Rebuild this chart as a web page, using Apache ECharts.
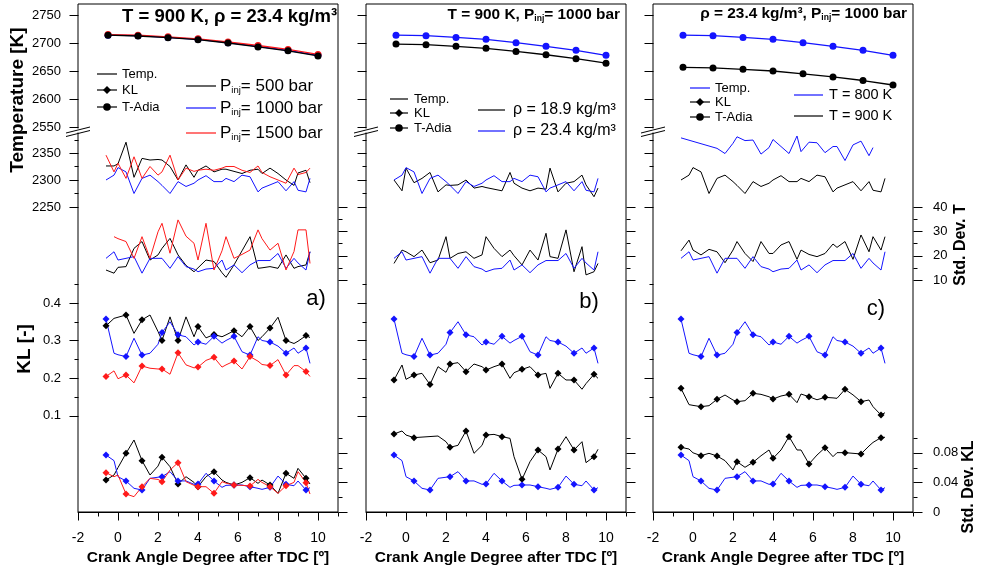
<!DOCTYPE html>
<html>
<head>
<meta charset="utf-8">
<script src="https://cdn.jsdelivr.net/npm/echarts@6/dist/echarts.min.js"></script>
<style>
  html, body { margin: 0; padding: 0; background: #fff; }
  #chart { width: 982px; height: 566px; }
</style>
</head>
<body>
<div id="chart"></div>
<script>
// ---- crank-angle positions (deg after TDC) ----
const XS = [-0.6, -0.2, 0.0, 0.4, 0.8, 1.2, 1.6, 2.0, 2.2, 2.6, 3.0, 3.4, 3.8, 4.0, 4.4,
            4.8, 5.2, 5.4, 5.8, 6.2, 6.6, 7.0, 7.2, 7.6, 8.0, 8.4, 8.8, 9.0, 9.4, 9.6];
const MARK_IDX = [0, 3, 5, 8, 10, 13, 15, 18, 20, 23, 25, 28];
const XA = [-0.5, 1, 2.5, 4, 5.5, 7, 8.5, 10];

// ---- tick values ----
const X_MAJOR = [-2, 0, 2, 4, 6, 8, 10];
const X_MINOR = [-1, 1, 3, 5, 7, 9, 11];
const T_UP_TICKS = [2550, 2600, 2650, 2700, 2750];
const T_LO_MAJOR = [2250, 2300, 2350];
const T_LO_MINOR = [2275, 2325, 2375];
const SDT_MAJOR = [10, 20, 30, 40];
const SDT_MINOR = [15, 25, 35];
const KL_MAJOR = [0.1, 0.2, 0.3, 0.4];
const KL_MINOR = [0.15, 0.25, 0.35, 0.45];
const SDKL_MAJOR = [0, 0.04, 0.08];
const SDKL_MINOR = [0.02, 0.06, 0.1];

// ---- reference case: T = 900 K, rho = 23.4 kg/m3, Pinj = 1000 bar ----
const baseTAdia = [2714, 2713, 2710, 2706.5, 2700.5, 2694, 2687, 2678];
const baseTemp = [2300, 2309, 2323, 2315, 2275, 2303, 2309, 2297, 2290, 2275, 2297, 2288, 2294, 2300, 2308,
                  2297, 2297, 2303, 2297, 2309, 2306, 2278, 2285, 2291, 2297, 2280, 2297, 2281, 2278, 2303];
const baseSdT = [18.9, 21.6, 18.2, 18.9, 19.6, 12.8, 18.9, 18.9, 18.9, 14.8, 19.6, 15.5, 14.5, 13.4, 14.5,
                 14.8, 18.2, 14.1, 16.2, 13.0, 16.2, 18.0, 18.0, 18.0, 20.9, 14.8, 18.9, 17.0, 14.1, 21.6];
const baseKL = [0.357, 0.266, 0.262, 0.257, 0.306, 0.261, 0.266, 0.290, 0.321, 0.350, 0.315, 0.310, 0.288, 0.296, 0.290,
                0.311, 0.293, 0.300, 0.311, 0.270, 0.261, 0.310, 0.300, 0.296, 0.285, 0.266, 0.280, 0.266, 0.280, 0.239];
const baseSdKL = [0.077, 0.0694, 0.0477, 0.0419, 0.032, 0.0297, 0.0455, 0.047, 0.0477, 0.0545, 0.0419, 0.042, 0.0374, 0.0378, 0.0523,
                  0.0419, 0.0333, 0.036, 0.0365, 0.0365, 0.0342, 0.032, 0.0306, 0.0333, 0.0486, 0.0374, 0.0355, 0.0419, 0.0297, 0.0329];

// ---- a) Pinj = 500 bar ----
const p500TAdia = [2714, 2712.5, 2709.5, 2706, 2700, 2693, 2686, 2677];
const p500Temp = [2326, 2326, 2330, 2370, 2305, 2340, 2337, 2338, 2337, 2325, 2300, 2328, 2305, 2318, 2326,
                  2315, 2320, 2320, 2316, 2312, 2318, 2320, 2312, 2322, 2312, 2300, 2290, 2313, 2318, 2295];
const p500SdT = [14.1, 12.8, 15.2, 15.5, 23.0, 25.8, 18.2, 20.3, 23.0, 27.1, 20.3, 16.0, 13.4, 15.0, 18.2,
                 17.6, 13.0, 11.1, 16.2, 22.0, 27.8, 14.8, 15.0, 15.5, 14.8, 20.3, 14.8, 15.5, 16.2, 21.6];
const p500KL = [0.339, 0.359, 0.362, 0.368, 0.319, 0.355, 0.368, 0.324, 0.300, 0.363, 0.300, 0.363, 0.310, 0.337, 0.307,
                0.316, 0.310, 0.315, 0.326, 0.310, 0.337, 0.300, 0.310, 0.333, 0.362, 0.300, 0.292, 0.298, 0.313, 0.308];
const p500SdKL = [0.0432, 0.050, 0.060, 0.0793, 0.0973, 0.0694, 0.050, 0.062, 0.074, 0.0612, 0.0378, 0.0477, 0.040, 0.0342, 0.0477,
                  0.0545, 0.0432, 0.040, 0.0365, 0.040, 0.0464, 0.0387, 0.0432, 0.0365, 0.0252, 0.0523, 0.0455, 0.059, 0.0455, 0.0378];

// ---- a) Pinj = 1500 bar ----
const p1500TAdia = [2715, 2714, 2711, 2707.5, 2702, 2695.5, 2688.5, 2679.5];
const p1500Temp = [2346, 2315, 2331, 2303, 2343, 2303, 2325, 2309, 2315, 2346, 2300, 2322, 2316, 2318, 2320,
                   2318, 2322, 2325, 2325, 2318, 2314, 2326, 2314, 2306, 2300, 2294, 2322, 2310, 2314, 2322];
const p1500SdT = [null, 27.8, 27.0, 25.8, 18.9, 27.8, 18.9, 29.8, 33.3, 21.0, 34.7, 28.0, 25.1, 18.2, 33.3,
                  14.1, 22.0, 27.8, 18.9, 20.5, 22.3, 30.6, 27.0, 22.3, 25.1, 14.1, 21.7, 30.6, 30.6, 16.8];
const p1500KL = [0.204, 0.219, 0.198, 0.208, 0.187, 0.232, 0.226, 0.224, 0.224, 0.210, 0.267, 0.235, 0.227, 0.229, 0.247,
                 0.255, 0.229, 0.235, 0.245, 0.224, 0.257, 0.245, 0.236, 0.233, 0.249, 0.208, 0.233, 0.233, 0.217, 0.204];
const p1500SdKL = [0.0532, 0.0477, 0.050, 0.0243, 0.0207, 0.0342, 0.0455, 0.044, 0.041, 0.0567, 0.0667, 0.041, 0.036, 0.0342, 0.0342,
                   0.0252, 0.041, 0.039, 0.0365, 0.036, 0.0351, 0.0441, 0.040, 0.0342, 0.0252, 0.0356, 0.040, 0.0545, 0.0396, 0.0243];

// ---- b) rho = 18.9 kg/m3 ----
const rho189TAdia = [2698, 2697, 2694, 2690.5, 2685, 2679, 2672, 2664];
const rho189Temp = [2300, 2280, 2322, 2295, 2303, 2314, 2278, 2291, 2290, 2291, 2300, 2285, 2288, 2286, 2283,
                    2280, 2314, 2294, 2285, 2280, 2285, 2283, 2322, 2278, 2294, 2297, 2309, 2291, 2269, 2285];
const rho189SdT = [16.8, 22.3, 21.6, 19.6, 22.3, 17.1, 18.2, 27.8, 18.9, 20.9, 21.6, 18.9, 20.3, 27.8, 23.0,
                   19.6, 22.3, 20.0, 16.2, 22.3, 18.2, 29.2, 19.6, 18.9, 30.6, 13.4, 23.7, 12.1, 13.4, 16.8];
const rho189KL = [0.1947, 0.2347, 0.1964, 0.208, 0.2124, 0.1826, 0.2302, 0.2151, 0.2373, 0.2409, 0.2169, 0.2373, 0.2302, 0.2213, 0.2302,
                  0.2373, 0.1991, 0.2142, 0.223, 0.2302, 0.208, 0.2124, 0.1724, 0.2124, 0.1947, 0.1947, 0.170, 0.185, 0.2097, 0.1991];
const rho189SdKL = [0.1054, 0.1095, 0.104, 0.1005, null, null, 0.1027, 0.095, 0.0874, 0.0901, 0.1095, 0.0793, 0.090, 0.104, 0.1049,
                    0.1018, 0.0995, 0.0748, 0.0441, 0.068, 0.0838, 0.0748, 0.0568, 0.085, 0.1018, 0.0838, 0.095, 0.0667, 0.0748, 0.0847];

// ---- c) temperature variation ----
const cBlackTAdia = [2656.5, 2655.5, 2653, 2650, 2645, 2639.5, 2633, 2625];
const cBlueTemp = [2378, null, null, null, null, 2358.6, 2349, 2368, 2380, 2373, 2374, 2348, 2360, 2375, 2362,
                   2349, 2381.5, 2352.5, 2370, 2369, 2350.6, 2362, 2362, 2336, 2365, 2372, 2345, 2360, null, null];
const cBlackSdT = [22.0, 26.4, 22.3, 20.3, 22.6, 21.6, 17.1, 22.3, 25.8, 20.9, 17.6, 25.8, 20.9, 20.9, 24.4,
                   25.8, 18.5, 22.3, 20.5, 19.6, 20.9, 24.8, 23.4, 25.8, 18.5, 28.5, 21.6, 27.8, 22.3, 27.8];
const cBlackKL = [0.1724, 0.129, 0.127, 0.1236, 0.1262, 0.1431, 0.1546, 0.1413, 0.1369, 0.1395, 0.1591, 0.1564, 0.150, 0.144, 0.152,
                  0.1564, 0.1342, 0.1573, 0.1502, 0.142, 0.1484, 0.147, 0.1458, 0.1698, 0.155, 0.1369, 0.1413, 0.1236, 0.1013, 0.1075];
const cBlackSdKL = [0.0874, 0.0851, 0.080, 0.0761, 0.0793, 0.0757, 0.0694, 0.0568, 0.068, 0.0604, 0.0671, 0.076, 0.0838, 0.0725, 0.0838,
                    0.1018, 0.0838, 0.0838, 0.0649, 0.077, 0.0869, 0.0748, 0.0802, 0.0802, 0.0793, 0.0784, 0.0892, 0.094, 0.1005, 0.101];

// ---------------------------------------------------------------
const FONT = '"Liberation Sans", Arial, Helvetica, sans-serif';
const BLACK = '#000000', BLUE = '#1414ff', RED = '#ff1a1a';

// panel left/right pixel edges and band boundaries
const PANEL_X = [[78, 338], [366, 626], [653, 913]];
const Y_TOP = 4, Y_BREAK = 132, Y_SDT = 280, Y_SDKL = 438, Y_BOTTOM = 512;
const MAJOR_LEN = 9, MINOR_LEN = 4;

// axis ranges per band (chosen so the bands share one pixel scale)
const R_TUP = [2541.07, 2769.64];
const R_TLO = [2114.81, 2388.89];
const R_SDT = [10, 70.82];
const R_KL = [-0.15733, 0.46133];
const R_SDKL = [0, 0.1];
const R_X = [-2, 11];
const R_DUMMY = [1, 2];

const grids = [], xAxes = [], yAxes = [], series = [];
const plain = v => String(v);

function addGrid(l, r, t, b, extra) {
  grids.push(Object.assign({ left: l, top: t, width: r - l, height: b - t, containLabel: false, outerBoundsMode: 'none' }, extra || {}));
  return grids.length - 1;
}
function hiddenAxis(list, gi, range) {
  list.push({ type: 'value', gridIndex: gi, min: range[0], max: range[1], show: false, axisLine: { onZero: false } });
  return list.length - 1;
}
function yLabels(l, r, t, b, pos, range, ticks, margin) {
  const gi = addGrid(l, r, t, b);
  hiddenAxis(xAxes, gi, R_DUMMY);
  yAxes.push({
    type: 'value', gridIndex: gi, position: pos, min: range[0], max: range[1],
    axisLine: { show: false, onZero: false }, splitLine: { show: false }, axisTick: { show: false },
    axisLabel: { show: true, customValues: ticks, margin: margin, fontSize: 13, color: BLACK, fontFamily: FONT, formatter: plain }
  });
}
function pts(xs, vals, marks, symbol, size) {
  return xs.map((x, i) => {
    const v = vals[i];
    const it = { value: [x, v == null ? '-' : v] };
    if (symbol && (marks === 'all' || marks.indexOf(i) >= 0)) {
      it.symbol = symbol; it.symbolSize = size;
    } else {
      it.symbol = 'none';
    }
    return it;
  });
}
function addLine(xi, yi, xs, vals, color, opt) {
  opt = opt || {};
  series.push({
    type: 'line', xAxisIndex: xi, yAxisIndex: yi,
    data: pts(xs, vals, opt.marks || [], opt.symbol, opt.size),
    showSymbol: true, showAllSymbol: true,
    connectNulls: !!opt.connect, clip: false, silent: true, animation: false,
    lineStyle: { color: color, width: opt.width || 1 },
    itemStyle: { color: color },
    z: opt.z || 2
  });
}

const PANELS = [
  { adia: [[p500TAdia, BLACK], [baseTAdia, BLUE], [p1500TAdia, RED]],
    temp: [[p500Temp, BLACK], [baseTemp, BLUE], [p1500Temp, RED]],
    sdt:  [[p500SdT, BLACK], [baseSdT, BLUE], [p1500SdT, RED]],
    kl:   [[p500KL, BLACK], [baseKL, BLUE], [p1500KL, RED]],
    sdkl: [[p500SdKL, BLACK], [baseSdKL, BLUE], [p1500SdKL, RED]] },
  { adia: [[rho189TAdia, BLACK], [baseTAdia, BLUE]],
    temp: [[rho189Temp, BLACK], [baseTemp, BLUE]],
    sdt:  [[rho189SdT, BLACK], [baseSdT, BLUE]],
    kl:   [[rho189KL, BLACK], [baseKL, BLUE]],
    sdkl: [[rho189SdKL, BLACK], [baseSdKL, BLUE]] },
  { adia: [[cBlackTAdia, BLACK], [baseTAdia, BLUE]],
    temp: [[baseTemp, BLACK], [cBlueTemp, BLUE]],
    sdt:  [[cBlackSdT, BLACK], [baseSdT, BLUE]],
    kl:   [[cBlackKL, BLACK], [baseKL, BLUE]],
    sdkl: [[cBlackSdKL, BLACK], [baseSdKL, BLUE]] }
];

const axisRefs = [];   // per panel: indices of the axes that carry each scale

PANELS.forEach((p, pi) => {
  const [L, R] = PANEL_X[pi];

  // frame + crank-angle axis line and labels
  const gf = addGrid(L, R, Y_TOP, Y_BOTTOM, { show: true, borderColor: BLACK, borderWidth: 1, backgroundColor: 'transparent' });
  xAxes.push({
    type: 'value', gridIndex: gf, min: R_X[0], max: R_X[1], position: 'bottom',
    axisLine: { show: true, onZero: false, lineStyle: { color: BLACK, width: 1 } },
    splitLine: { show: false }, axisTick: { show: false },
    axisLabel: { show: true, customValues: X_MAJOR, fontSize: 14, color: BLACK, margin: 19, fontFamily: FONT, formatter: plain },
    name: 'Crank Angle Degree after TDC [º]', nameLocation: 'middle', nameGap: 33,
    nameTextStyle: { fontSize: 15.5, fontWeight: 'bold', color: BLACK, fontFamily: FONT }
  });
  const xf = xAxes.length - 1;
  hiddenAxis(yAxes, gf, R_DUMMY);

  // tick labels: temperature and KL on the first panel, std. dev. on the last
  if (pi === 0) {
    yLabels(L, R, Y_TOP, Y_BREAK, 'left', R_TUP, T_UP_TICKS, 17);
    yLabels(L, R, Y_BREAK, Y_SDT, 'left', R_TLO, T_LO_MAJOR, 17);
    yLabels(L, R, Y_SDT, Y_BOTTOM, 'left', R_KL, KL_MAJOR, 17);
  }
  if (pi === 2) {
    yLabels(L, R, Y_BREAK, Y_SDT, 'right', R_SDT, SDT_MAJOR, 20);
    yLabels(L, R, Y_SDKL, Y_BOTTOM, 'right', R_SDKL, SDKL_MAJOR, 20);
  }

  // upper temperature band: adiabatic flame temperature
  const g0 = addGrid(L, R, Y_TOP, Y_BREAK);
  const x0 = hiddenAxis(xAxes, g0, R_X);
  const y0 = hiddenAxis(yAxes, g0, R_TUP);
  p.adia.forEach(([vals, c]) => addLine(x0, y0, XA, vals, c, { marks: 'all', symbol: 'circle', size: 7, width: 1.3, z: c === BLACK ? 4 : 3 }));

  // lower temperature band + std. dev. of temperature
  const g1 = addGrid(L, R, Y_BREAK, Y_SDT);
  const x1 = hiddenAxis(xAxes, g1, R_X);
  const y1 = hiddenAxis(yAxes, g1, R_TLO);
  const y1r = hiddenAxis(yAxes, g1, R_SDT);
  p.temp.forEach(([vals, c]) => addLine(x1, y1, XS, vals, c, { connect: vals === cBlueTemp }));
  p.sdt.forEach(([vals, c]) => addLine(x1, y1r, XS, vals, c));

  // KL band
  const g2 = addGrid(L, R, Y_SDT, Y_BOTTOM);
  const x2 = hiddenAxis(xAxes, g2, R_X);
  const y2 = hiddenAxis(yAxes, g2, R_KL);
  p.kl.forEach(([vals, c]) => addLine(x2, y2, XS, vals, c, { marks: MARK_IDX, symbol: 'diamond', size: 7 }));

  // std. dev. of KL band
  const g3 = addGrid(L, R, Y_SDKL, Y_BOTTOM);
  const x3 = hiddenAxis(xAxes, g3, R_X);
  const y3 = hiddenAxis(yAxes, g3, R_SDKL);
  p.sdkl.forEach(([vals, c]) => addLine(x3, y3, XS, vals, c, { marks: MARK_IDX, symbol: 'diamond', size: 7, connect: vals === rho189SdKL }));

  axisRefs.push({ xf: xf, tUp: y0, tLo: y1, sdt: y1r, kl: y2, sdkl: y3 });
});

// ---- annotations, legends and axis titles ----
const gfx = [];
function txt(x, y, text, o) {
  o = o || {};
  gfx.push({
    type: 'text', x: x, y: y, rotation: o.rot || 0, z: 100, silent: true,
    style: {
      text: text, fill: BLACK, fontFamily: FONT, fontSize: o.size || 13,
      fontWeight: o.bold ? 'bold' : 'normal',
      textAlign: o.align || 'left', textVerticalAlign: 'middle',
      rich: o.rich
    }
  });
}
function seg(x1, y1, x2, y2, color, w, list) {
  (list || gfx).push({ type: 'line', z: 100, silent: true, shape: { x1, y1, x2, y2 }, style: { stroke: color, lineWidth: w || 1 } });
}
function key(x1, x2, y, color, mark) {
  seg(x1, y, x2, y, color, 1.2);
  const cx = (x1 + x2) / 2;
  if (mark === 'circle') {
    gfx.push({ type: 'circle', z: 101, silent: true, shape: { cx: cx, cy: y, r: 3.8 }, style: { fill: color } });
  } else if (mark === 'diamond') {
    const r = 4;
    gfx.push({ type: 'polygon', z: 101, silent: true,
      shape: { points: [[cx, y - r], [cx + r, y], [cx, y + r], [cx - r, y]] }, style: { fill: color } });
  }
}
function subRich(size, subSize, bold) {
  const w = bold ? 'bold' : 'normal';
  return {
    n: { fontSize: size, fontFamily: FONT, fill: BLACK, fontWeight: w, lineHeight: size + 4 },
    s: { fontSize: subSize, fontFamily: FONT, fill: BLACK, fontWeight: w, lineHeight: size + 4, padding: [Math.round(size * 0.45), 0, 0, 0] }
  };
}

// break marks on the temperature axes
PANEL_X.forEach(([L]) => {
  gfx.push({ type: 'rect', z: 99, silent: true, shape: { x: L - 2, y: 128.5, width: 4, height: 4 }, style: { fill: '#fff' } });
  seg(L - 12, 133, L + 12, 127, BLACK, 1);
  seg(L - 12, 136.5, L + 12, 130.5, BLACK, 1);
});

// panel titles
txt(122, 17, 'T = 900 K, ρ = 23.4 kg/m³', { size: 18.5, bold: true });
txt(620, 15, '{n|T = 900 K, P}{s|inj}{n|= 1000 bar}', { align: 'right', rich: subRich(15.4, 8.5, true) });
txt(907, 14, '{n|ρ = 23.4 kg/m³, P}{s|inj}{n|= 1000 bar}', { align: 'right', rich: subRich(15.4, 8.5, true) });

// panel a legend
key(97, 117, 74, BLACK); txt(122, 74, 'Temp.');
key(97, 117, 90, BLACK, 'diamond'); txt(122, 90, 'KL');
key(97, 117, 107, BLACK, 'circle'); txt(122, 107, 'T-Adia');
key(186, 216, 86, BLACK); txt(220, 86, '{n|P}{s|inj}{n|= 500 bar}', { rich: subRich(17, 9.5) });
key(186, 216, 108, BLUE); txt(220, 108, '{n|P}{s|inj}{n|= 1000 bar}', { rich: subRich(17, 9.5) });
key(186, 216, 133, RED); txt(220, 133, '{n|P}{s|inj}{n|= 1500 bar}', { rich: subRich(17, 9.5) });

// panel b legend
key(390, 408, 99, BLACK); txt(414, 99, 'Temp.');
key(390, 408, 113, BLACK, 'diamond'); txt(414, 113, 'KL');
key(390, 408, 128, BLACK, 'circle'); txt(414, 128, 'T-Adia');
key(478, 505, 110, BLACK); txt(513, 110, 'ρ = 18.9 kg/m³', { size: 16 });
key(478, 505, 131, BLUE); txt(513, 131, 'ρ = 23.4 kg/m³', { size: 16 });

// panel c legend
key(690, 710, 88, BLUE); txt(715, 88, 'Temp.');
key(690, 710, 102, BLACK, 'diamond'); txt(715, 102, 'KL');
key(690, 710, 117, BLACK, 'circle'); txt(715, 117, 'T-Adia');
key(794, 823, 95, BLUE); txt(829, 95, 'T = 800 K', { size: 14.5 });
key(794, 823, 116, BLACK); txt(829, 116, 'T = 900 K', { size: 14.5 });

// panel tags
txt(316, 299, 'a)', { size: 22, align: 'center' });
txt(589, 302, 'b)', { size: 22, align: 'center' });
txt(876, 309, 'c)', { size: 22, align: 'center' });

// axis titles
txt(18, 100, 'Temperature [K]', { size: 19, bold: true, align: 'center', rot: Math.PI / 2 });
txt(25, 349, 'KL [-]', { size: 19, bold: true, align: 'center', rot: Math.PI / 2 });
txt(961, 245, 'Std. Dev. T', { size: 16, bold: true, align: 'center', rot: Math.PI / 2 });
txt(969, 487, 'Std. Dev. KL', { size: 16, bold: true, align: 'center', rot: Math.PI / 2 });

const chart = echarts.init(document.getElementById('chart'), null, { renderer: 'canvas' });
chart.setOption({
  animation: false,
  backgroundColor: '#ffffff',
  textStyle: { fontFamily: FONT },
  grid: grids,
  xAxis: xAxes,
  yAxis: yAxes,
  series: series
});

// tick marks, placed through each axis' own scale
const ticks = [];
const crisp = v => Math.round(v) + 0.5;
axisRefs.forEach(ref => {
  const px = v => chart.convertToPixel({ xAxisIndex: ref.xf }, v);
  const xl = crisp(px(R_X[0])), xr = crisp(px(R_X[1]));
  const yb = crisp(chart.convertToPixel({ yAxisIndex: ref.kl }, R_KL[0]));
  const side = (axisIdx, vals, len, right) => vals.forEach(v => {
    const y = crisp(chart.convertToPixel({ yAxisIndex: axisIdx }, v));
    if (right) seg(xr, y, xr + len, y, BLACK, 1, ticks);
    else seg(xl - len, y, xl, y, BLACK, 1, ticks);
  });
  side(ref.tUp, T_UP_TICKS, MAJOR_LEN, false);
  side(ref.tLo, T_LO_MAJOR, MAJOR_LEN, false);
  side(ref.tLo, T_LO_MINOR, MINOR_LEN, false);
  side(ref.kl, KL_MAJOR, MAJOR_LEN, false);
  side(ref.kl, KL_MINOR, MINOR_LEN, false);
  side(ref.sdt, SDT_MAJOR, MAJOR_LEN, true);
  side(ref.sdt, SDT_MINOR, MINOR_LEN, true);
  side(ref.sdkl, SDKL_MAJOR, MAJOR_LEN, true);
  side(ref.sdkl, SDKL_MINOR, MINOR_LEN, true);
  X_MAJOR.forEach(v => { const x = crisp(px(v)); seg(x, yb, x, yb + 8, BLACK, 1, ticks); });
  X_MINOR.forEach(v => { const x = crisp(px(v)); seg(x, yb, x, yb + 4, BLACK, 1, ticks); });
});

chart.setOption({ graphic: gfx.concat(ticks) });
</script>
</body>
</html>
